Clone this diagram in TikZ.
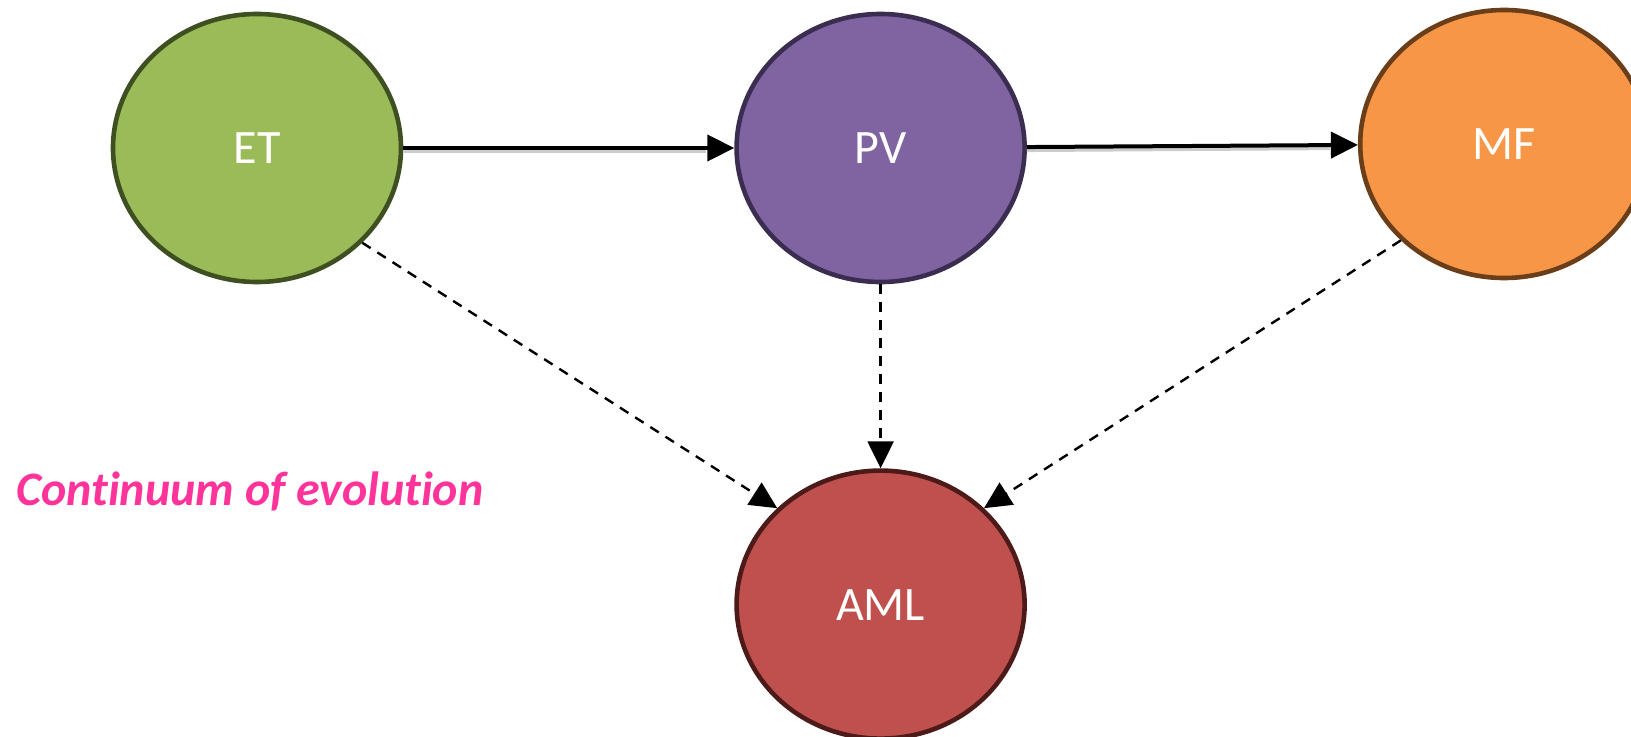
\documentclass[tikz,border=0pt]{standalone}
\usepackage{fontspec}
\setmainfont{Carlito}[Ligatures={NoCommon,NoRare,NoDiscretionary}]
\usepackage{xcolor}
\usetikzlibrary{shapes.geometric, arrows.meta, positioning}

\definecolor{etfill}{HTML}{9BBB59}
\definecolor{etline}{HTML}{3E4F22}
\definecolor{pvfill}{HTML}{8064A2}
\definecolor{pvline}{HTML}{3B2D50}
\definecolor{mffill}{HTML}{F79646}
\definecolor{mfline}{HTML}{6A3E18}
\definecolor{amlfill}{HTML}{C0504D}
\definecolor{amlline}{HTML}{4D1A1A}
\definecolor{evopink}{HTML}{FF3399}

\begin{document}
\begin{tikzpicture}[
    x=0.5pt, y=-0.5pt,
    stage/.style={ellipse, draw, line width=2.3pt, minimum width=144pt, minimum height=134pt,
        text=white, font=\fontsize{24}{28}\selectfont},
    flow/.style={-{Triangle[length=13.5pt, width=13pt]}, line width=2pt,
        preaction={draw=black!20, -, line width=2.6pt, shorten >=14pt, transform canvas={yshift=-1.2pt}}},
    drift/.style={-{Triangle[length=13.5pt, width=13pt]}, line width=1.2pt, dash pattern=on 5pt off 4pt},
    node distance=165.5pt
]
\useasboundingbox (0,0) rectangle (1631,737);

\node[stage, fill=etfill, draw=etline] (et) at (257,148) {ET};
\node[stage, fill=pvfill, draw=pvline, right=of et] (pv) {PV};
\node[stage, fill=mffill, draw=mfline, right=of pv, yshift=2pt] (mf) {MF};
\node[stage, fill=amlfill, draw=amlline, below=92pt of pv] (aml) {AML};

\node[anchor=base west, inner sep=0pt, text=evopink, font=\fontsize{24}{29}\selectfont\bfseries\itshape]
    (label) at (16,505) {Continuum of evolution};

\draw[flow] (et) -- (pv);
\draw[flow] (pv) -- (mf);
\draw[drift] (et.-42) -- (aml.137);
\draw[drift] (pv) -- (aml);
\draw[drift] (mf.-137) -- (aml.43);
\end{tikzpicture}
\end{document}
